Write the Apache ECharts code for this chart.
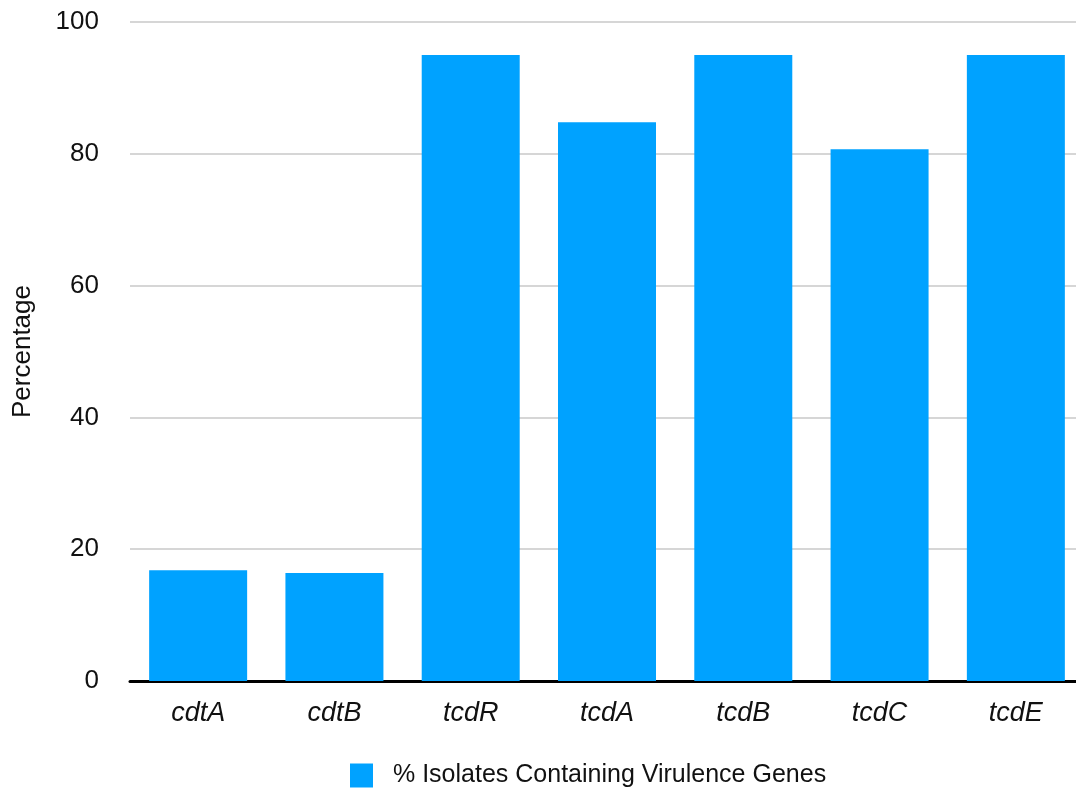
<!DOCTYPE html>
<html>
<head>
<meta charset="utf-8">
<script src="https://cdn.jsdelivr.net/npm/echarts@6/dist/echarts.min.js"></script>
<style>
  html, body { margin: 0; padding: 0; background: #fff; overflow: hidden; }
  /* plot runs slightly past the right edge of the window */
  #chart { width: 1084px; height: 790px; }
</style>
</head>
<body>
<div id="chart"></div>
<script>
// Virulence genes and share of isolates carrying each one
const genes = ['cdtA', 'cdtB', 'tcdR', 'tcdA', 'tcdB', 'tcdC', 'tcdE'];
const percentIsolates = [16.8, 16.4, 95, 84.8, 95, 80.7, 95];
const seriesName = '% Isolates Containing Virulence Genes';
const yTicks = { min: 0, max: 100, interval: 20 };

const FONT = '"Liberation Sans", Arial, Helvetica, sans-serif';
const chart = echarts.init(document.getElementById('chart'), null, { renderer: 'canvas' });

chart.setOption({
  animation: false,
  textStyle: { fontFamily: FONT },
  grid: { left: 130, top: 22, width: 954, height: 659, containLabel: false },
  legend: {
    data: [seriesName],
    left: 350,
    top: 763,
    padding: 0,
    itemWidth: 23,
    itemHeight: 24,
    icon: 'rect',
    textStyle: { fontSize: 25, color: '#111', fontFamily: FONT, padding: [0, 0, 0, 15] }
  },
  xAxis: {
    type: 'category',
    data: genes,
    axisLine: { show: true, lineStyle: { color: '#000', width: 3 } },
    axisTick: { show: false },
    axisLabel: {
      fontSize: 27, fontStyle: 'italic', color: '#111', margin: 19, fontFamily: FONT
    }
  },
  yAxis: {
    type: 'value',
    min: yTicks.min,
    max: yTicks.max,
    interval: yTicks.interval,
    name: 'Percentage',
    nameLocation: 'middle',
    nameGap: 94,
    nameRotate: 90,
    nameTextStyle: { fontSize: 26, color: '#111', fontFamily: FONT },
    axisLine: { show: false },
    axisTick: { show: false },
    axisLabel: { fontSize: 26, color: '#111', margin: 31, fontFamily: FONT },
    splitLine: { show: true, lineStyle: { color: '#c8c8c8', width: 1.5 } }
  },
  series: [{
    name: seriesName,
    type: 'bar',
    data: percentIsolates,
    barWidth: 98,
    itemStyle: { color: '#00A2FF' }
  }]
});
</script>
</body>
</html>
